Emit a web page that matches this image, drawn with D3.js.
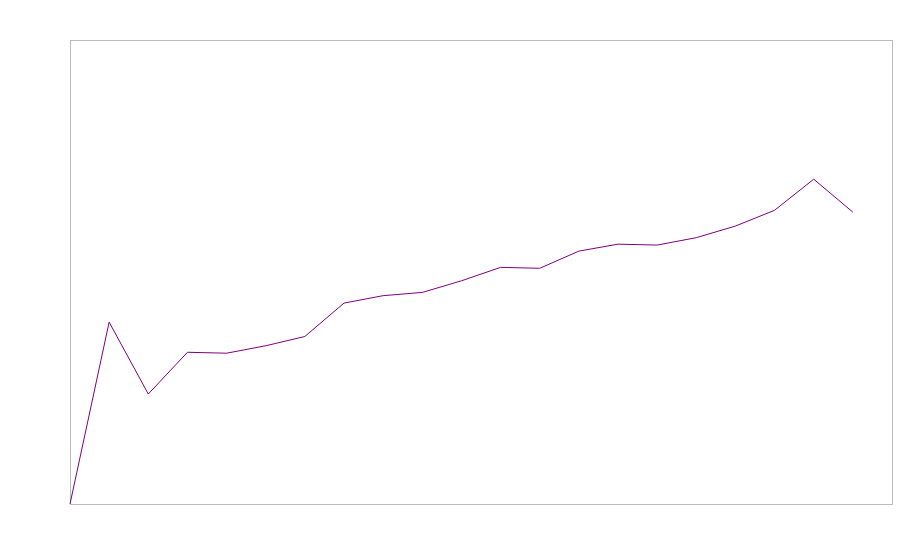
<!DOCTYPE html>
<html>
<head>
<meta charset="utf-8">
<script src="https://cdn.jsdelivr.net/npm/d3@7"></script>
<style>
  body { margin: 0; background: #fff; }
</style>
</head>
<body>
<div class="chart"></div>
<script>
// values (no axis labels, so y is on a 0-100 scale)
var steps = d3.range(21);
var values = [0, 39.2, 23.7, 32.7, 32.5, 34.1, 36.1, 43.3, 44.9, 45.6, 48.1,
              51.0, 50.8, 54.5, 56.0, 55.8, 57.4, 59.9, 63.3, 70.0, 62.9];

var margin = { top: 40, right: 8, bottom: 56, left: 70 };
var width = 900 - margin.left - margin.right;
var height = 560 - margin.top - margin.bottom;

var svg = d3.select('.chart')
    .append('svg')
    .attr('width', 900)
    .attr('height', 560)
    .append('g')
    .attr('transform', `translate(${margin.left}, ${margin.top})`);

var xScale = d3.scaleLinear()
    .domain([0, 21])
    .range([0, width]);

var yScale = d3.scaleLinear()
    .domain([0, 100])
    .range([height, 0]);

// frame
svg.append('rect')
    .attr('x', 0.5)
    .attr('y', 0.5)
    .attr('width', width)
    .attr('height', height)
    .style('fill', 'none')
    .style('stroke', '#bbbbbb')
    .style('stroke-width', 1);

var line = d3.line()
    .x(d => xScale(d))
    .y(d => yScale(values[d]));

svg.append('path')
    .attr('d', line(steps))
    .style('stroke', '#800080')
    .style('stroke-width', 1)
    .style('fill', 'none');
</script>
</body>
</html>
